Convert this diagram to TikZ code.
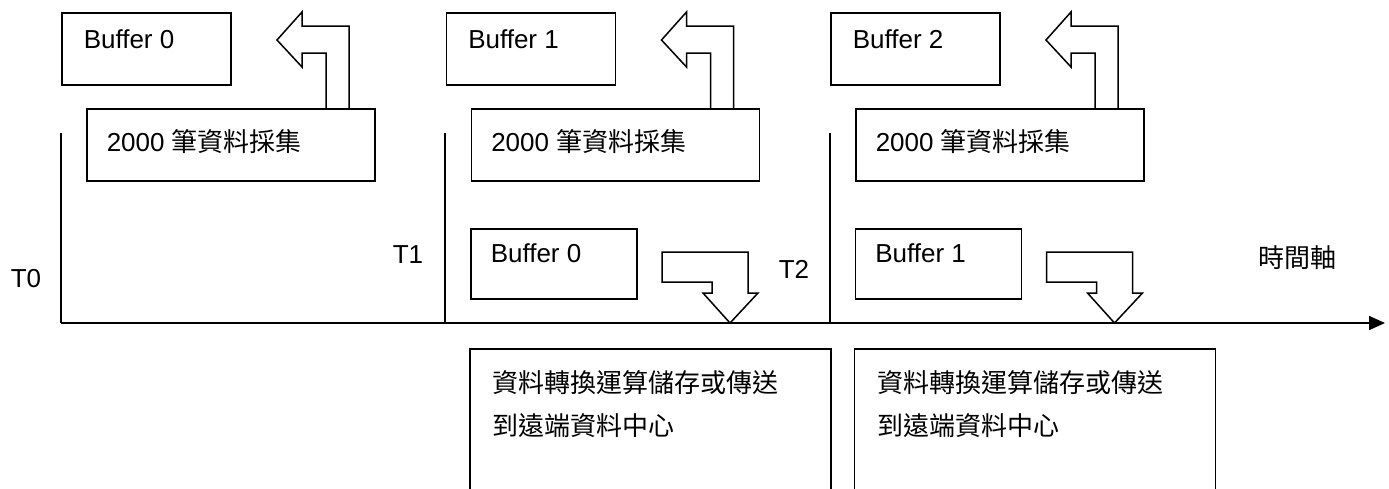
\documentclass[tikz,border=0pt]{standalone}
\usepackage{fontspec}
\setmainfont{Liberation Sans}
\newfontfamily\cjk{Noto Sans CJK TC}
\usetikzlibrary{arrows.meta,calc}
\begin{document}
\begin{tikzpicture}[x=1pt,y=-1pt,line width=1.5pt,
  box/.style={draw,rectangle,inner sep=0pt,anchor=north west},
  lbl/.style={inner sep=0pt,anchor=base west,font=\fontsize{26}{34}\selectfont},
  big/.style={line join=miter}]
\useasboundingbox (0,0) rectangle (1389,488);
\clip (0,0) rectangle (1389,488);
% top groups
\foreach \i/\n in {0/0,1/1,2/2}{
  \begin{scope}[xshift={\i*384.5}]
    \node[box,minimum width=169,minimum height=72] (buf\i) at (61,12) {};
    \node[lbl] (buft\i) at (83,48) {Buffer \n};
    \node[box,minimum width=288,minimum height=72] (col\i) at (86,108) {};
    \node[lbl] (colt\i) at (106,151) {2000 {\cjk 筆資料採集}};
    \draw[big] (326,108) -- (326,53) -- (302,53) -- (302,67) -- (277,40)
      -- (302,12) -- (302,26) -- (349,26) -- (349,108);
  \end{scope}
}
% lower groups
\foreach \i/\n in {0/0,1/1}{
  \begin{scope}[xshift={\i*384.5}]
    \node[box,minimum width=166,minimum height=70] (low\i) at (470,228) {};
    \node[lbl] (lowt\i) at (490,262) {Buffer \n};
    \draw[big] (662,252) -- (748,252) -- (748,293) -- (758,293) -- (730,323)
      -- (703,293) -- (712,293) -- (712,282) -- (662,282) -- cycle;
    \node[box,minimum width=361,minimum height=200] (out\i) at (469,348) {};
    \node[lbl] (outa\i) at (492,392) {\cjk 資料轉換運算儲存或傳送};
    \node[lbl] (outb\i) at (492,435) {\cjk 到遠端資料中心};
  \end{scope}
}
% time axis
\coordinate (a0) at (61,323);
\coordinate (a1) at (1385,323);
\draw[-{Triangle[length=16,width=14]}] (a0) -- (a1);
\foreach \x/\k in {61/0,445/1,830/2}{
  \coordinate (v\k) at (\x,133);
  \draw (v\k) -- (\x,323);
}
\node[lbl] (T0) at (10,287) {T0};
\node[lbl] (T1) at (392,263) {T1};
\node[lbl] (T2) at (778,278) {T2};
\node[lbl] (axis) at (1258,267) {\cjk 時間軸};
\end{tikzpicture}
\end{document}
